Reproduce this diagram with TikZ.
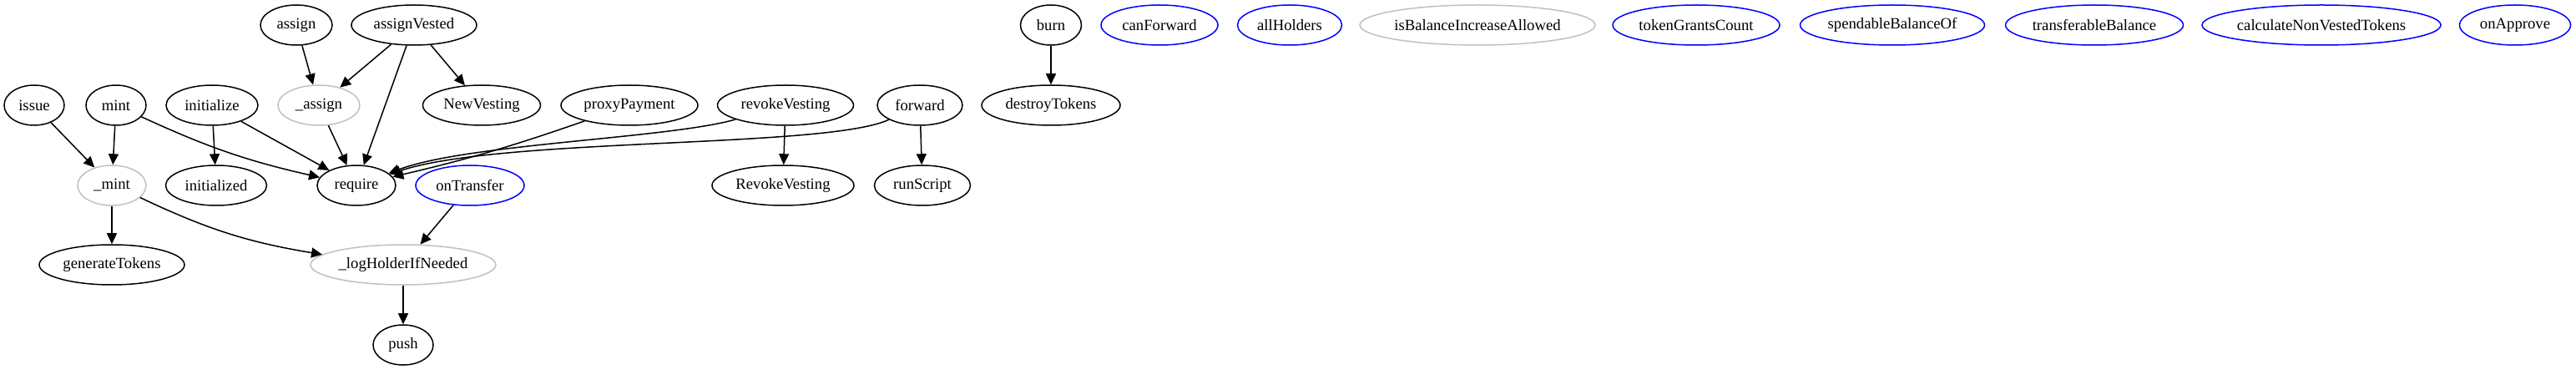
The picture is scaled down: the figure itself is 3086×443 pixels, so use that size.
\documentclass[tikz,border=0pt]{standalone}
\usepackage{fontspec}
\setmainfont{Liberation Serif}
\usetikzlibrary{shapes.geometric,arrows.meta}
\definecolor{gvgray}{RGB}{192,192,192}
\begin{document}
\begin{tikzpicture}[x=1pt,y=-1pt,
  fn/.style={ellipse, draw=black, inner sep=0pt, minimum height=48pt, line width=1.5pt,
    font=\fontsize{18.7}{22}\selectfont},
  bl/.style={fn, draw=blue},
  gr/.style={fn, draw=gvgray},
  edge/.style={line width=1.5pt, -{Triangle[length=13pt,width=12pt]}}]
\useasboundingbox (0,0) rectangle (3086,443);
% row 1
\node[fn, minimum width=86pt] (assign) at (355,30) {assign};
\node[fn, minimum width=150pt] (assignVested) at (496,30) {assignVested};
\node[fn, minimum width=73pt] (burn) at (1259,30) {burn};
\node[bl, minimum width=140pt] (canForward) at (1389,30) {canForward};
\node[bl, minimum width=125pt] (allHolders) at (1545,30) {allHolders};
\node[gr, minimum width=278pt] (isBal) at (1770,30) {isBalanceIncreaseAllowed};
\node[bl, minimum width=200pt] (tokenGrantsCount) at (2032,30) {tokenGrantsCount};
\node[bl, minimum width=221pt] (spendable) at (2267,30) {spendableBalanceOf};
\node[bl, minimum width=213pt] (transferable) at (2509,30) {transferableBalance};
\node[bl, minimum width=282pt] (calcNV) at (2781,30) {calculateNonVestedTokens};
\node[bl, minimum width=133pt] (onApprove) at (3013,30) {onApprove};
% row 2
\node[fn, minimum width=72pt] (issue) at (41,126) {issue};
\node[fn, minimum width=72pt] (mint) at (139,126) {mint};
\node[fn, minimum width=110pt] (initialize) at (254,126) {initialize};
\node[gr, minimum width=98pt] (uassign) at (382,126) {\_assign};
\node[fn, minimum width=141pt] (NewVesting) at (577,126) {NewVesting};
\node[fn, minimum width=164pt] (proxyPayment) at (754,126) {proxyPayment};
\node[fn, minimum width=163pt] (revokeVesting) at (941,126) {revokeVesting};
\node[fn, minimum width=102pt] (forward) at (1102,126) {forward};
\node[fn, minimum width=166pt] (destroyTokens) at (1259,126) {destroyTokens};
% row 3
\node[gr, minimum width=82pt] (umint) at (134,222) {\_mint};
\node[fn, minimum width=121pt] (initialized) at (259,222) {initialized};
\node[fn, minimum width=94pt] (require) at (427,222) {require};
\node[bl, minimum width=130pt] (onTransfer) at (563,222) {onTransfer};
\node[fn, minimum width=170pt] (RevokeVestingEv) at (938,222) {RevokeVesting};
\node[fn, minimum width=115pt] (runScript) at (1105,222) {runScript};
% row 4
\node[fn, minimum width=174pt] (generateTokens) at (134,317) {generateTokens};
\node[gr, minimum width=222pt] (logHolder) at (483,317) {\_logHolderIfNeeded};
% row 5
\node[fn, minimum width=72pt] (push) at (483,413) {push};
% edges
\draw[edge] (assign) -- (uassign);
\draw[edge] (assignVested) -- (uassign);
\draw[edge] (assignVested.250) -- (require);
\draw[edge] (assignVested) -- (NewVesting);
\draw[edge] (burn) -- (destroyTokens);
\draw[edge] (issue) -- (umint);
\draw[edge] (mint) -- (umint);
\draw[edge] (mint) to[bend right=6] (require);
\draw[edge] (initialize) -- (initialized);
\draw[edge] (initialize) -- (require);
\draw[edge] (uassign) -- (require);
\draw[edge] (proxyPayment) to[bend left=3] (require);
\draw[edge] (revokeVesting) .. controls (800,166) and (560,172) .. (require);
\draw[edge] (forward) .. controls (990,178) and (600,164) .. (require);
\draw[edge] (revokeVesting) -- (RevokeVestingEv);
\draw[edge] (forward) -- (runScript);
\draw[edge] (umint) -- (generateTokens);
\draw[edge] (umint) to[bend right=8] (logHolder);
\draw[edge] (onTransfer) -- (logHolder);
\draw[edge] (logHolder) -- (push);
\end{tikzpicture}
\end{document}
